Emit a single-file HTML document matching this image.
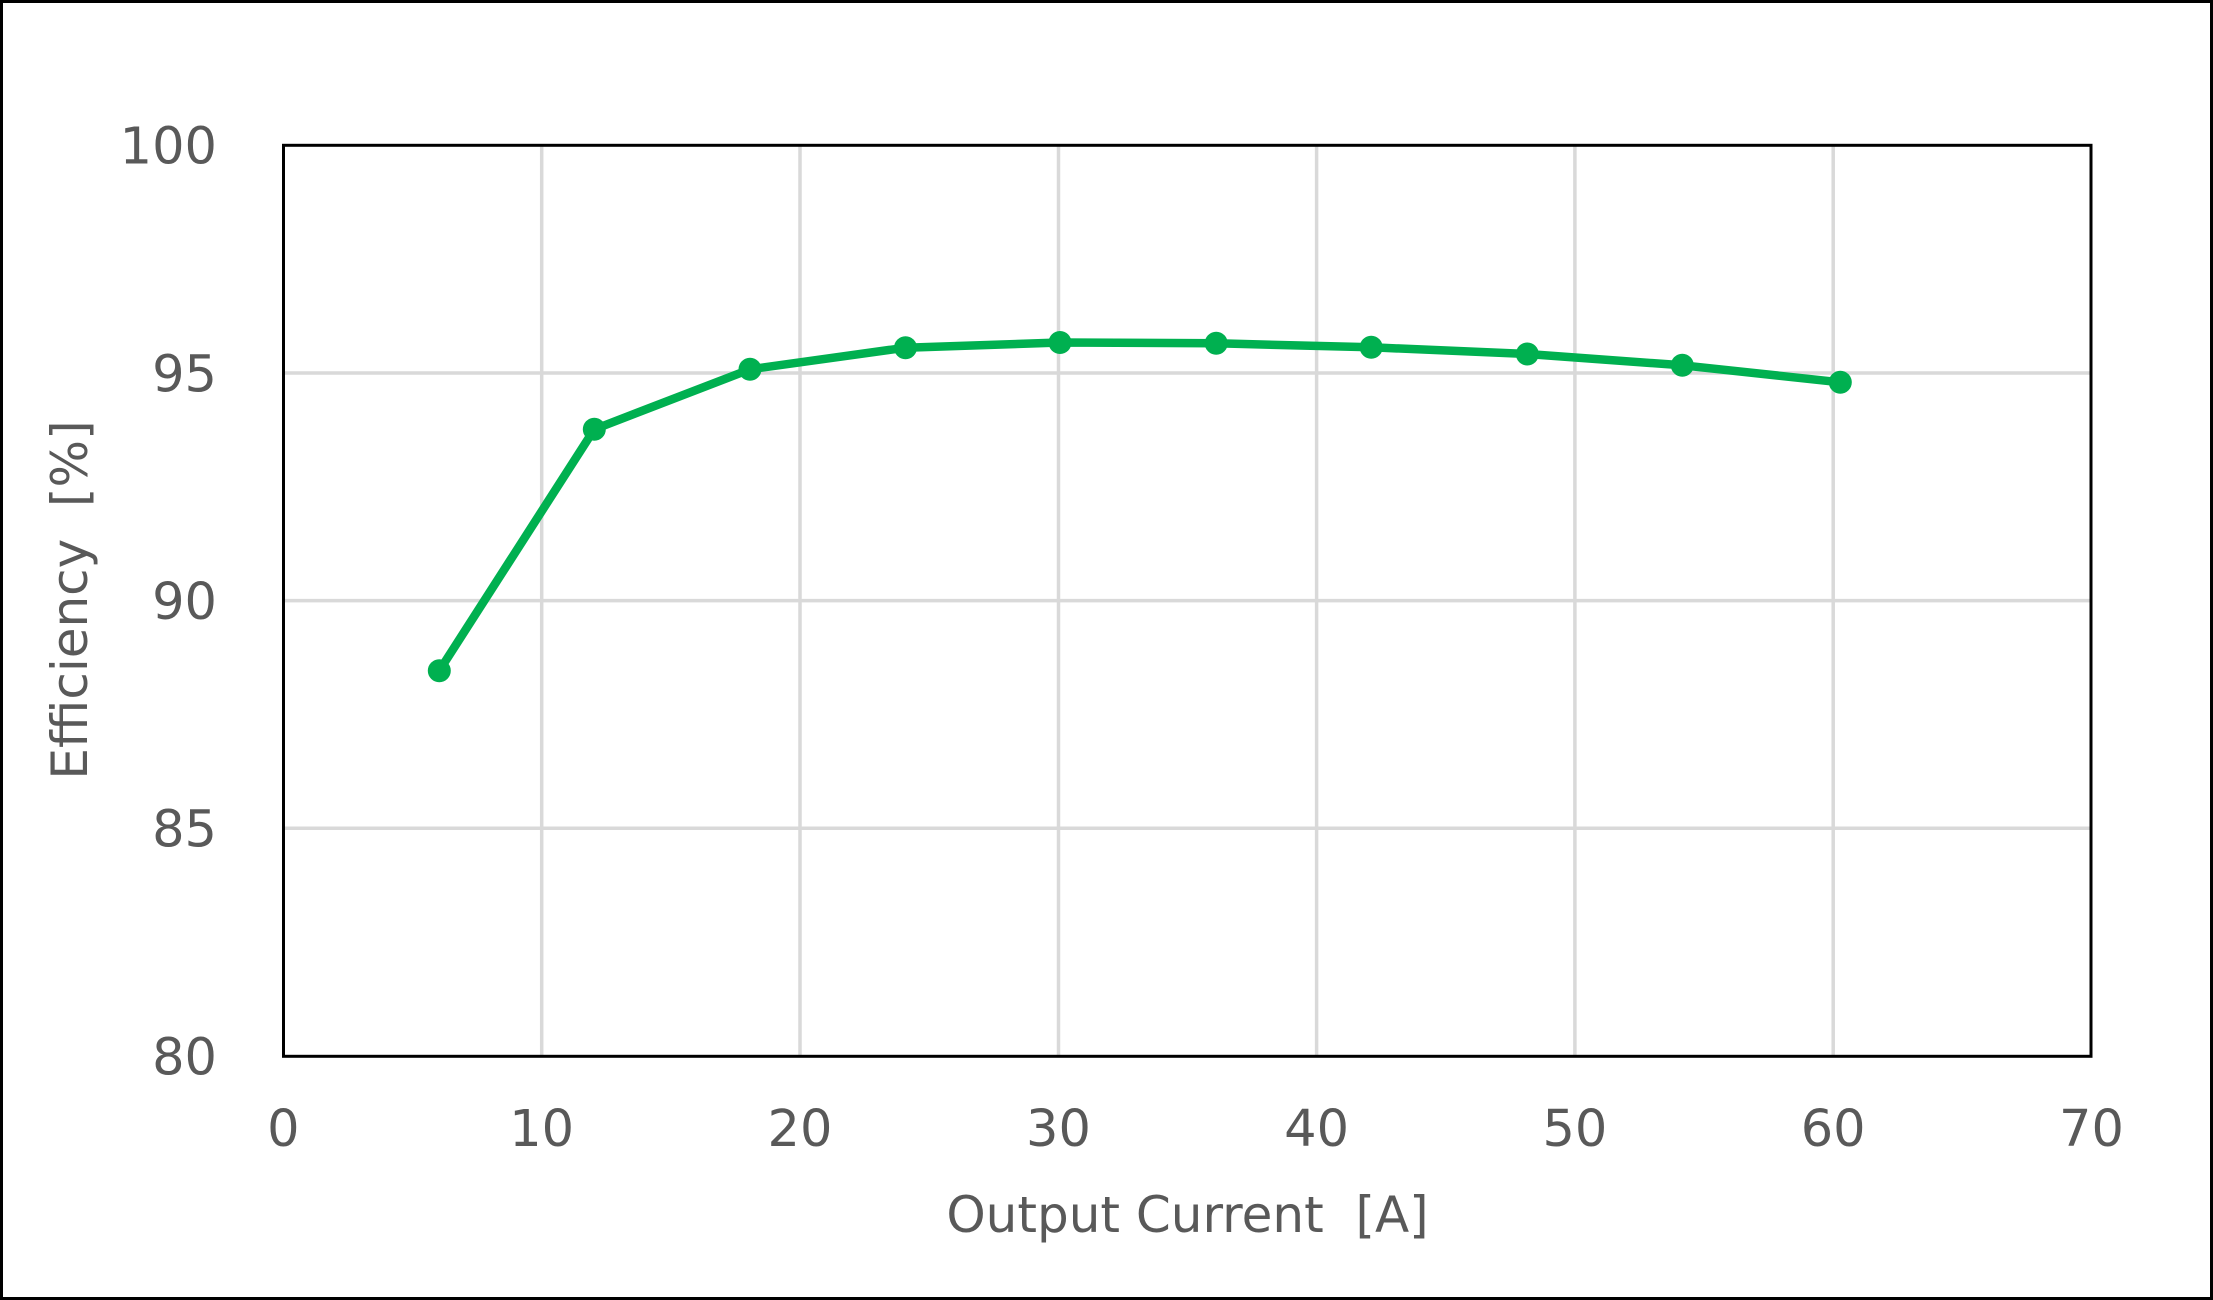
<!DOCTYPE html>
<html>
<head>
<meta charset="utf-8">
<style>
html,body{margin:0;padding:0;background:#fff;}
svg{display:block;}
text{font-family:"DejaVu Sans","Liberation Sans",sans-serif;fill:#595959;}
</style>
</head>
<body>
<svg width="2213" height="1300" viewBox="0 0 2213 1300" xmlns="http://www.w3.org/2000/svg">
  <rect x="0" y="0" width="2213" height="1300" fill="#ffffff"/>
  <rect x="1.5" y="1.5" width="2210" height="1297" fill="none" stroke="#000" stroke-width="3"/>

  <!-- gridlines -->
  <g stroke="#d9d9d9" stroke-width="3.5">
    <line x1="541.7" y1="145" x2="541.7" y2="1056"/>
    <line x1="800" y1="145" x2="800" y2="1056"/>
    <line x1="1058.5" y1="145" x2="1058.5" y2="1056"/>
    <line x1="1316.6" y1="145" x2="1316.6" y2="1056"/>
    <line x1="1574.9" y1="145" x2="1574.9" y2="1056"/>
    <line x1="1833.2" y1="145" x2="1833.2" y2="1056"/>
    <line x1="283.5" y1="373" x2="2091" y2="373"/>
    <line x1="283.5" y1="600.6" x2="2091" y2="600.6"/>
    <line x1="283.5" y1="828.2" x2="2091" y2="828.2"/>
  </g>

  <!-- plot border -->
  <rect x="283.5" y="145.3" width="1807.5" height="911" fill="none" stroke="#000" stroke-width="3"/>

  <!-- series -->
  <polyline fill="none" stroke="#00b050" stroke-width="8.5" stroke-linejoin="round"
    points="439.3,670.7 594.3,429.3 750,369.3 905.5,347.7 1060,342.5 1216.2,343.3 1371.2,347.3 1527.3,354 1682.3,365.3 1840.3,382.3"/>
  <g fill="#00b050">
    <circle cx="439.3" cy="670.7" r="11.5"/>
    <circle cx="594.3" cy="429.3" r="11.5"/>
    <circle cx="750" cy="369.3" r="11.5"/>
    <circle cx="905.5" cy="347.7" r="11.5"/>
    <circle cx="1060" cy="342.5" r="11.5"/>
    <circle cx="1216.2" cy="343.3" r="11.5"/>
    <circle cx="1371.2" cy="347.3" r="11.5"/>
    <circle cx="1527.3" cy="354" r="11.5"/>
    <circle cx="1682.3" cy="365.3" r="11.5"/>
    <circle cx="1840.3" cy="382.3" r="11.5"/>
  </g>

  <!-- y tick labels -->
  <g font-size="51" text-anchor="end">
    <text x="217" y="163.6">100</text>
    <text x="217" y="391.3">95</text>
    <text x="217" y="619">90</text>
    <text x="217" y="846.7">85</text>
    <text x="217" y="1074.4">80</text>
  </g>

  <!-- x tick labels -->
  <g font-size="51" text-anchor="middle">
    <text x="283.4" y="1146">0</text>
    <text x="541.7" y="1146">10</text>
    <text x="800" y="1146">20</text>
    <text x="1058.5" y="1146">30</text>
    <text x="1316.6" y="1146">40</text>
    <text x="1574.9" y="1146">50</text>
    <text x="1833.2" y="1146">60</text>
    <text x="2091.5" y="1146">70</text>
  </g>

  <!-- axis titles -->
  <text x="1187.5" y="1232" font-size="50" text-anchor="middle" style="white-space:pre">Output Current  [A]</text>
  <text transform="translate(87,600) rotate(-90)" font-size="50" text-anchor="middle" style="white-space:pre">Efficiency  [%]</text>
</svg>
</body>
</html>
